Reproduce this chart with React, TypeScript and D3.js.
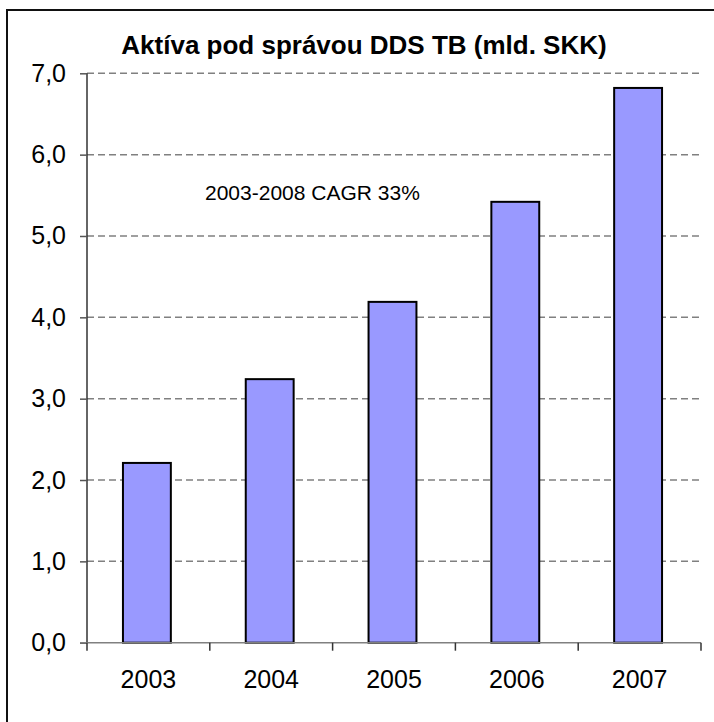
import React, { useEffect, useRef } from "react";
import * as d3 from "d3";

const years = ["2003", "2004", "2005", "2006", "2007"];
const assets = [2.21, 3.24, 4.19, 5.42, 6.82];
const yTicks = [0, 1, 2, 3, 4, 5, 6, 7];
const title = "Aktíva pod správou DDS TB (mld. SKK)";
const note = "2003-2008 CAGR 33%";

export default function App() {
  const ref = useRef<SVGSVGElement>(null);

  useEffect(() => {
    const width = 714,
      height = 722;
    const left = 87,
      right = 701,
      top = 73.3,
      bottom = 642.7;

    const svg = d3.select(ref.current);
    svg.selectAll("*").remove();

    svg.append("rect").attr("width", width).attr("height", height).attr("fill", "#fff");
    // frame
    svg
      .append("rect")
      .attr("x", 7)
      .attr("y", 10)
      .attr("width", 720)
      .attr("height", 720)
      .attr("fill", "none")
      .attr("stroke", "#111")
      .attr("stroke-width", 2);

    var x = d3.scaleBand().domain(years).range([left, right]).padding(0);
    var y = d3.scaleLinear().domain([0, 7]).range([bottom, top]);
    var fmt = (d: number) => d.toFixed(1).replace(".", ",");

    // gridlines
    svg
      .selectAll("line.grid")
      .data(yTicks.filter((d) => d > 0))
      .enter()
      .append("line")
      .attr("class", "grid")
      .attr("x1", left)
      .attr("x2", right)
      .attr("y1", (d) => y(d))
      .attr("y2", (d) => y(d))
      .attr("stroke", "#808080")
      .attr("stroke-width", 1.5)
      .attr("stroke-dasharray", "7,4");

    // bars
    var bw = x.bandwidth() * 0.39;
    svg
      .selectAll("rect.bar")
      .data(assets)
      .enter()
      .append("rect")
      .attr("class", "bar")
      .attr("x", (d, i) => (x(years[i]) as number) + x.bandwidth() / 2 - bw / 2 - 1.5)
      .attr("y", (d) => y(d))
      .attr("width", bw)
      .attr("height", (d) => bottom - y(d))
      .attr("fill", "#9999FF")
      .attr("stroke", "#000")
      .attr("stroke-width", 2);

    // y axis
    var yAxis = svg
      .append("g")
      .attr("transform", "translate(" + left + ",0)")
      .call(d3.axisLeft(y).tickValues(yTicks).tickSize(7).tickFormat((d) => fmt(d as number)));
    yAxis.select(".domain").attr("stroke", "#333").attr("stroke-width", 1.5).attr("d", "M0," + top + "V" + bottom);
    yAxis.selectAll(".tick line").attr("stroke", "#555").attr("stroke-width", 1.5);
    yAxis
      .selectAll(".tick text")
      .attr("x", -21)
      .attr("font-family", "Arial, Liberation Sans, sans-serif")
      .attr("font-size", 25)
      .attr("fill", "#000");

    // x axis
    var xAxis = svg
      .append("g")
      .attr("transform", "translate(0," + bottom + ")")
      .call(d3.axisBottom(x).tickSize(0).tickPadding(28));
    xAxis.select(".domain").attr("stroke", "#808080").attr("stroke-width", 1.5).attr("d", "M" + (left - 7) + ",0H" + right);
    xAxis
      .selectAll(".tick text")
      .attr("font-family", "Arial, Liberation Sans, sans-serif")
      .attr("font-size", 25)
      .attr("fill", "#000");
    var bounds = years.map((d) => x(d) as number).concat([right]);
    xAxis
      .selectAll("line.sep")
      .data(bounds)
      .enter()
      .append("line")
      .attr("class", "sep")
      .attr("x1", (d) => d)
      .attr("x2", (d) => d)
      .attr("y1", 0)
      .attr("y2", 8)
      .attr("stroke", "#333")
      .attr("stroke-width", 1.5);

    // title and note
    svg
      .append("text")
      .attr("x", 364)
      .attr("y", 54)
      .attr("text-anchor", "middle")
      .attr("font-family", "Arial, Liberation Sans, sans-serif")
      .attr("font-weight", "bold")
      .attr("font-size", 26)
      .text(title);
    svg
      .append("text")
      .attr("x", 205)
      .attr("y", 200)
      .attr("font-family", "Arial, Liberation Sans, sans-serif")
      .attr("font-size", 21)
      .text(note);
  }, []);

  return (
    <svg
      ref={ref}
      width={714}
      height={722}
      style={{ position: "absolute", left: 0, top: 0, display: "block" }}
    />
  );
}
